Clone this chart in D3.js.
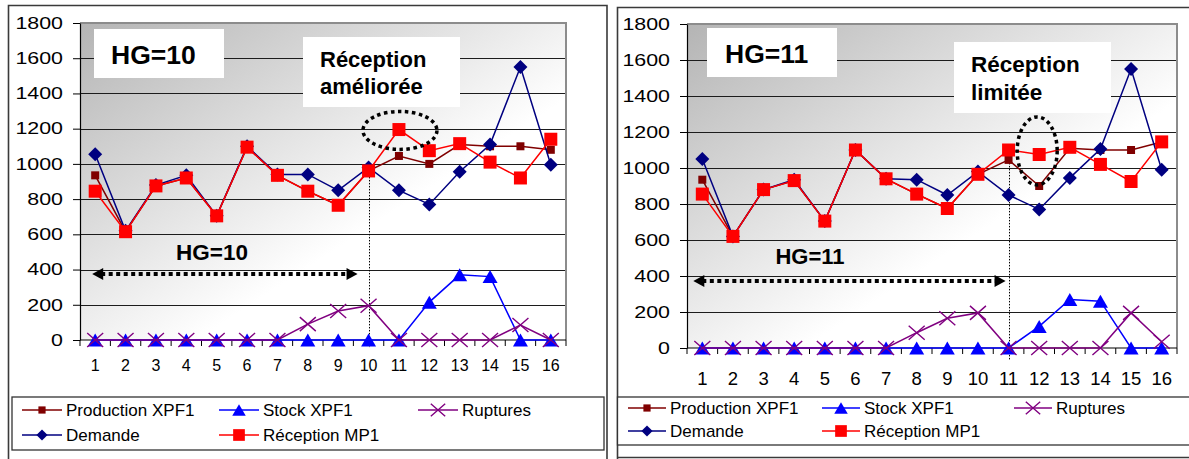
<!DOCTYPE html>
<html><head><meta charset="utf-8">
<script src="https://cdn.jsdelivr.net/npm/d3@7"></script>
<style>body{margin:0;background:#fff;} svg{display:block;font-family:"Liberation Sans",Arial,sans-serif;}</style>
</head><body><svg id="c" width="1189" height="459"></svg>
<script>
const categories = ["1","2","3","4","5","6","7","8","9","10","11","12","13","14","15","16"];
const yTicks = [0,200,400,600,800,1000,1200,1400,1600,1800];
const seriesNames = ["Production XPF1","Stock XPF1","Ruptures","Demande","Réception MP1"];

const hg10Production = [935,615,875,920,705,1095,935,845,765,960,1045,1000,1110,1100,1100,1080];
const hg10Stock      = [0,0,0,0,0,0,0,0,0,0,0,215,370,360,0,0];
const hg10Ruptures   = [0,0,0,0,0,0,0,90,165,195,0,0,0,0,85,0];
const hg10Demande    = [1055,620,880,935,705,1100,940,940,850,980,850,770,955,1110,1550,995];
const hg10Reception  = [845,615,875,920,705,1095,935,845,765,960,1195,1075,1115,1010,920,1140];

const hg11Production = [935,620,880,930,705,1100,940,855,775,965,1045,900,1110,1100,1100,1145];
const hg11Stock      = [0,0,0,0,0,0,0,0,0,0,0,120,270,260,0,0];
const hg11Ruptures   = [0,0,0,0,0,0,0,85,165,195,0,0,0,0,195,35];
const hg11Demande    = [1050,620,880,935,705,1100,940,935,850,980,850,770,945,1105,1550,990];
const hg11Reception  = [855,620,880,930,705,1100,940,855,775,965,1100,1075,1115,1020,925,1145];

const svg = d3.select("#c");
const defs = svg.append("defs");
const grad = defs.append("linearGradient").attr("id","bg").attr("x1",0).attr("y1",0).attr("x2",1).attr("y2",1);
grad.append("stop").attr("offset","0%").attr("stop-color","#b4b4b4");
grad.append("stop").attr("offset","62%").attr("stop-color","#ffffff");
grad.append("stop").attr("offset","100%").attr("stop-color","#ffffff");

const styles = [
  {color:"#800000", marker:"smallsquare"},
  {color:"#0000ff", marker:"triangle"},
  {color:"#800080", marker:"x"},
  {color:"#000080", marker:"diamond"},
  {color:"#ff0000", marker:"square"}
];

function marker(g, type, cx, cy, color, scale){
  const s = scale || 1;
  if(type==="square"){
    const h=6.5*s; g.append("rect").attr("x",cx-h).attr("y",cy-h).attr("width",2*h).attr("height",2*h).attr("fill",color);
  } else if(type==="smallsquare"){
    const h=4*s; g.append("rect").attr("x",cx-h).attr("y",cy-h).attr("width",2*h).attr("height",2*h).attr("fill",color);
  } else if(type==="diamond"){
    const w=7*s,h=7*s;
    g.append("path").attr("d",`M${cx},${cy-h}L${cx+w},${cy}L${cx},${cy+h}L${cx-w},${cy}Z`).attr("fill",color);
  } else if(type==="triangle"){
    const w=7.5*s,h=6.5*s;
    g.append("path").attr("d",`M${cx},${cy-h}L${cx+w},${cy+h}L${cx-w},${cy+h}Z`).attr("fill",color);
  } else if(type==="x"){
    const w=8*s,h=7*s;
    g.append("path").attr("d",`M${cx-w},${cy-h}L${cx+w},${cy+h}M${cx-w},${cy+h}L${cx+w},${cy-h}`).attr("stroke",color).attr("stroke-width",1.4).attr("fill","none");
  }
}

function drawChart(cfg){
  const g = svg.append("g");
  const x = d3.scaleBand().domain(categories).range([cfg.x0,cfg.x1]);
  const y = d3.scaleLinear().domain([0,1800]).range([cfg.yBottom,cfg.yTop]);
  const cx = c => x(c)+x.bandwidth()/2;

  // outer frame
  g.append("path").attr("d",cfg.frame).attr("fill","none").attr("stroke","#3a3a3a").attr("stroke-width",1.6);
  // legend box
  g.append("rect").attr("x",cfg.legend.x).attr("y",cfg.legend.y).attr("width",cfg.legend.w).attr("height",cfg.legend.h)
    .attr("fill","#fff").attr("stroke","#333").attr("stroke-width",1.3);

  // plot background
  g.append("rect").attr("x",cfg.x0).attr("y",cfg.yTop).attr("width",cfg.x1-cfg.x0).attr("height",cfg.yBottom-cfg.yTop).attr("fill","url(#bg)");
  // grid
  g.append("g").selectAll("line").data(yTicks.filter(v=>v>0&&v<1800)).join("line")
    .attr("x1",cfg.x0).attr("x2",cfg.x1).attr("y1",d=>Math.round(y(d))+0.5).attr("y2",d=>Math.round(y(d))+0.5)
    .attr("stroke","#1c1c1c").attr("stroke-width",1);
  // top and right border
  g.append("path").attr("d",`M${cfg.x0},${y(1800)}H${cfg.x1}V${y(0)}`).attr("fill","none").attr("stroke","#8c8c8c").attr("stroke-width",2);

  // annotation boxes
  cfg.boxes.forEach(b=>{
    g.append("rect").attr("x",b.x).attr("y",b.y).attr("width",b.w).attr("height",b.h).attr("fill","#fff");
    b.lines.forEach(l=>{
      g.append("text").attr("x",l.x).attr("y",l.y).attr("font-size",l.size).attr("font-weight","bold").attr("fill","#000").text(l.t);
    });
  });

  // vertical dotted line
  const vx = Math.round(cx(cfg.vline.cat))+0.5;
  g.append("line").attr("x1",vx).attr("x2",vx).attr("y1",y(cfg.vline.from)).attr("y2",y(0)+cfg.vline.below)
    .attr("stroke","#000").attr("stroke-width",1).attr("stroke-dasharray","1.5,1.5");

  // y axis
  const ya = g.append("g").attr("transform",`translate(${cfg.x0},0)`)
    .call(d3.axisLeft(y).tickValues(yTicks).tickFormat(d3.format("d")).tickSize(7).tickSizeOuter(0).tickPadding(10));
  ya.select(".domain").attr("stroke","#000").attr("stroke-width",1.2);
  ya.selectAll(".tick line").attr("stroke","#000").attr("stroke-width",1);
  ya.selectAll(".tick text").attr("font-size",16.5).attr("fill","#000").attr("font-family","Liberation Sans, Arial, sans-serif")
    .attr("textLength",d=>String(d).length*11.9).attr("lengthAdjust","spacingAndGlyphs");

  // x axis
  g.append("line").attr("x1",cfg.x0).attr("x2",cfg.x1).attr("y1",y(0)).attr("y2",y(0)).attr("stroke","#000").attr("stroke-width",1.2);
  const edges = categories.map(c=>x(c)).concat([cfg.x1]);
  g.append("g").selectAll("line").data(edges).join("line")
    .attr("x1",d=>d).attr("x2",d=>d).attr("y1",y(0)).attr("y2",y(0)+6).attr("stroke","#000").attr("stroke-width",1);
  g.append("g").selectAll("text").data(categories).join("text")
    .attr("x",d=>cx(d)).attr("y",y(0)+cfg.xLabelOffset).attr("text-anchor","middle").attr("font-size",cfg.xLabelSize).attr("fill","#000").text(d=>d);

  // series
  cfg.series.forEach((vals,i)=>{
    const st = styles[i];
    const line = d3.line().x((d,j)=>cx(categories[j])).y(d=>y(d));
    g.append("path").attr("d",line(vals)).attr("fill","none").attr("stroke",st.color).attr("stroke-width",1.5);
    const mg = g.append("g");
    vals.forEach((v,j)=>marker(mg,st.marker,cx(categories[j]),y(v),st.color));
  });

  // dotted ellipse
  g.append("ellipse").attr("cx",cx(cfg.ellipse.cat)+cfg.ellipse.dx).attr("cy",y(cfg.ellipse.v)).attr("rx",cfg.ellipse.rx).attr("ry",cfg.ellipse.ry)
    .attr("fill","none").attr("stroke","#000").attr("stroke-width",3.5).attr("stroke-dasharray","3.5,3.5");

  // double arrow
  const ay = y(cfg.arrow.v);
  const ax1 = cx(categories[0])+cfg.arrow.dx1, ax2 = cx(cfg.arrow.endCat)+cfg.arrow.dx2;
  g.append("line").attr("x1",ax1+9).attr("x2",ax2-9).attr("y1",ay).attr("y2",ay)
    .attr("stroke","#000").attr("stroke-width",4).attr("stroke-dasharray","4,3.5");
  g.append("path").attr("d",`M${ax1},${ay}L${ax1+11},${ay-6}L${ax1+11},${ay+6}Z`).attr("fill","#000");
  g.append("path").attr("d",`M${ax2},${ay}L${ax2-11},${ay-6}L${ax2-11},${ay+6}Z`).attr("fill","#000");
  g.append("text").attr("x",cfg.hgLabel.x).attr("y",cfg.hgLabel.y).attr("text-anchor","middle").attr("font-size",cfg.hgLabel.size)
    .attr("font-weight","bold").attr("fill","#000").text(cfg.hgLabel.t);

  // legend
  seriesNames.forEach((n,i)=>{
    const it = cfg.legendItems[i];
    const st = styles[i];
    g.append("line").attr("x1",it.x).attr("x2",it.x+cfg.legendLine).attr("y1",it.y).attr("y2",it.y).attr("stroke",st.color).attr("stroke-width",1.5);
    marker(g,st.marker,it.x+cfg.legendLine/2,it.y,st.color,st.marker==="diamond"?0.8:0.9);
    g.append("text").attr("x",it.x+cfg.legendLine+4).attr("y",it.y).attr("dy","0.36em").attr("font-size",17).attr("fill","#000").text(n);
  });
}

drawChart({
  x0:80, x1:566, yTop:23, yBottom:340,
  frame:"M8.5,470V5.5H607V470",
  legend:{x:12,y:397,w:592,h:53},
  xLabelOffset:31, xLabelSize:16,
  series:[hg10Production,hg10Stock,hg10Ruptures,hg10Demande,hg10Reception],
  boxes:[
    {x:94,y:29,w:130,h:49,lines:[{x:111,y:64,size:26.5,t:"HG=10"}]},
    {x:303,y:37,w:157,h:70,lines:[{x:320,y:67,size:22,t:"Réception"},{x:320,y:94,size:22,t:"améliorée"}]}
  ],
  vline:{cat:"10",from:960,below:8},
  ellipse:{cat:"11",dx:1,v:1190,rx:37,ry:19},
  arrow:{v:375,dx1:-3,endCat:"10",dx2:-11},
  hgLabel:{x:212,y:260,size:22.5,t:"HG=10"},
  legendLine:40,
  legendItems:[{x:22,y:410},{x:219,y:410},{x:418,y:410},{x:22,y:435},{x:219,y:435}]
});

drawChart({
  x0:687, x1:1177, yTop:24, yBottom:348,
  frame:"M617.5,470V7.5H1200M617,457.5H1200",
  legend:{x:617.5,y:397,w:590,h:48},
  xLabelOffset:37, xLabelSize:18.5,
  series:[hg11Production,hg11Stock,hg11Ruptures,hg11Demande,hg11Reception],
  boxes:[
    {x:707,y:28,w:130,h:49,lines:[{x:725,y:63,size:26.5,t:"HG=11"}]},
    {x:954,y:42,w:157,h:71,lines:[{x:971,y:72,size:22.5,t:"Réception"},{x:971,y:100,size:22.5,t:"limitée"}]}
  ],
  vline:{cat:"11",from:1045,below:12},
  ellipse:{cat:"12",dx:-2,v:1095,rx:20,ry:34},
  arrow:{v:372,dx1:-9,endCat:"11",dx2:-3},
  hgLabel:{x:810,y:264,size:22,t:"HG=11"},
  legendLine:38,
  legendItems:[{x:628,y:408},{x:822,y:408},{x:1014,y:408},{x:628,y:431},{x:822,y:431}]
});
</script></body></html>
